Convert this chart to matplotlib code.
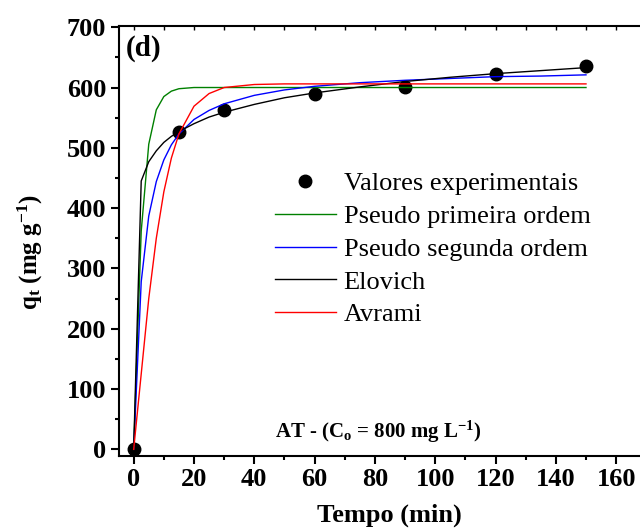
import matplotlib
matplotlib.use('Agg')
import matplotlib.pyplot as plt
from matplotlib.ticker import MultipleLocator

plt.rcParams['font.family'] = 'Liberation Serif'
plt.rcParams['mathtext.fontset'] = 'custom'
plt.rcParams['mathtext.rm'] = 'Liberation Serif'
plt.rcParams['mathtext.it'] = 'Liberation Serif:italic'
plt.rcParams['mathtext.bf'] = 'Liberation Serif:bold'

# experimental points
tempo_exp = [0, 15, 30, 60, 90, 120, 150]
q_exp = [0, 527, 562, 590, 601, 622, 635]

# fitted curves (min, mg/g)
tempo_mod = [0, 2.5, 5, 7.5, 10, 12.5, 15, 20, 25, 30, 40, 50, 60, 75, 90, 105, 120, 135, 150]
q_pfo = [0, 362, 506, 563, 585, 594, 598, 600, 600, 600, 600, 600, 600, 600, 600, 600, 600, 600, 600]
q_pso = [0, 278, 387, 444, 480, 505, 523, 547, 562, 573, 587, 596, 602, 608, 612, 615, 618, 619, 621]
q_elovich = [0, 445, 477, 495, 509, 519, 527, 540, 551, 559, 572, 583, 591, 601, 610, 617, 623, 628, 633]
q_avrami = [0, 125, 250, 350, 427, 483, 523, 569, 590, 600, 605, 606, 606, 606, 606, 606, 606, 606, 606]

fig = plt.figure(figsize=(6.4, 5.29), dpi=100)
ax = fig.add_axes([118.6 / 640, 73 / 529, 527.7 / 640, 430 / 529])

ax.plot(tempo_exp, q_exp, 'o', color='black', markersize=9, label='Valores experimentais', zorder=2)
ax.plot(tempo_mod, q_pfo, color='green', lw=1, label='Pseudo primeira ordem', zorder=3)
ax.plot(tempo_mod, q_pso, color='blue', lw=1, label='Pseudo segunda ordem', zorder=3)
ax.plot(tempo_mod, q_elovich, color='black', lw=1, label='Elovich', zorder=3)
ax.plot(tempo_mod, q_avrami, color='red', lw=1, label='Avrami', zorder=3)

ax.set_xlim(-5, 170)
ax.set_ylim(-11, 702)
ax.xaxis.set_major_locator(MultipleLocator(20))
ax.xaxis.set_minor_locator(MultipleLocator(10))
ax.yaxis.set_major_locator(MultipleLocator(100))
ax.yaxis.set_minor_locator(MultipleLocator(50))

for s in ['left', 'bottom', 'right']:
    ax.spines[s].set_linewidth(1.5)
ax.spines['top'].set_visible(False)
ax.tick_params(which='major', direction='out', length=6, width=1.5, labelsize=19, pad=3)
ax.tick_params(which='minor', direction='out', length=3, width=1.5)
for lab in ax.get_xticklabels() + ax.get_yticklabels():
    lab.set_fontweight('bold')

top = ax.secondary_xaxis('top')
top.spines['top'].set_linewidth(1.5)
top.xaxis.set_major_locator(MultipleLocator(10))
top.tick_params(direction='in', length=3, width=1, labeltop=False)

xl = ax.set_xlabel('Tempo (min)', fontsize=19, fontweight='bold')
yl = ax.set_ylabel(r'$\mathbf{q_t}$ (mg g$^{\mathbf{-1}}$)', fontsize=18, fontweight='bold')
xl.set_va('center')
yl.set_va('center')
ax.xaxis.set_label_coords((389 - 118.6) / 527.7, -(515 - 456) / 430)
ax.yaxis.set_label_coords((30 - 118.6) / 527.7, (456 - 252) / 430)

ax.text(0.014, (456 - 48) / 430, '(d)', transform=ax.transAxes, fontsize=21, fontweight='bold', va='center')
ax.text(0.297, 0.025, r'AT - (C$_\mathbf{o}$ = 800 mg L$^{\mathbf{-1}}$)', transform=ax.transAxes,
        fontsize=15, fontweight='bold', va='bottom')

ax.legend(loc='upper left', bbox_to_anchor=(275 / 640, 1 - 172 / 529), bbox_transform=fig.transFigure,
          frameon=False, fontsize=19, numpoints=1, handlelength=2.3, handletextpad=0.3,
          labelspacing=0.35, borderpad=0, borderaxespad=0)

fig.savefig('out.png', dpi=100)
